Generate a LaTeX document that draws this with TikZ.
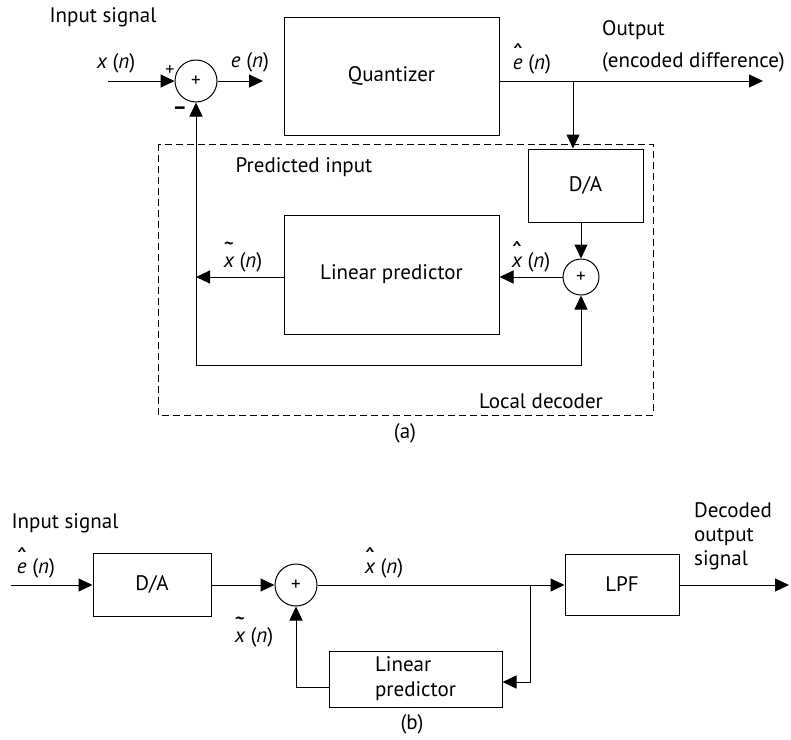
\documentclass[tikz,border=0pt]{standalone}
\usepackage{fontspec}
\usepackage{graphicx}
\setsansfont{PT Sans}
\usetikzlibrary{positioning, arrows.meta, calc}
\tikzset{
  block/.style={rectangle, draw=black, line width=1pt, font=\sffamily\fontsize{21}{25}\selectfont, text centered},
  sumador/.style={circle, draw=black, line width=1pt, inner sep=0pt, font=\sffamily\fontsize{19}{21}\selectfont},
  etiqueta/.style={font=\sffamily\fontsize{21}{25}\selectfont, inner sep=0pt},
  signo/.style={font=\sffamily\fontsize{18}{20}\selectfont, inner sep=0pt},
  arrow/.style={line width=1pt, -{Triangle[length=14pt, width=13pt]}},
  linea/.style={line width=1pt}
}
\newcommand{\acento}[2]{{\ooalign{{\itshape #2}\cr\hidewidth\raisebox{6pt}{\scalebox{1.5}[1.3]{#1}}\hidewidth\cr}}}
\newcommand{\sen}[1]{{\itshape #1} ({\itshape n\/})}
\newcommand{\senhat}[1]{\acento{\symbol{"02C6}}{#1} ({\itshape n\/})}
\newcommand{\sentil}[1]{\acento{\symbol{"02DC}}{#1} ({\itshape n\/})}

\begin{document}
\begin{tikzpicture}[x=1pt, y=-1pt]
    \useasboundingbox (0,0) rectangle (791,739);

    % ==========================================
    % (a) CODIFICADOR
    % ==========================================

    % Entrada y sumador
    \node[etiqueta] (entA) at (103,17) {Input signal};
    \node[etiqueta] (lxn) at (116,63) {\sen{x}};
    \coordinate (xin) at (108,81);
    \node[sumador, minimum size=42pt] (sum1) at (196,81) {+};
    \node[signo] (mas1) at (170,71) {+};
    \node[signo] (menos1) at (180,111) {\fontsize{22}{24}\selectfont\bfseries –};
    \node[etiqueta] (len) at (250,62) {\sen{e}};
    \coordinate (enfin) at (263,81);

    % Cuantizador y salida
    \node[block, minimum width=215pt, minimum height=118pt] (cuant) at (391.5,76) {Quantizer};
    \node[etiqueta] (lehat) at (532,64) {\senhat{e}};
    \node[etiqueta, align=left, anchor=west] (lsalA) at (602,46) {Output\\[7pt](encoded difference)};
    \coordinate (salA) at (763,81);
    \coordinate (ramA) at (573,81);

    % Decodificador local
    \draw[linea, dash pattern=on 7pt off 4pt] (158,144) rectangle (653,415);
    \node[etiqueta] (lpred) at (304,167) {Predicted input};
    \node[etiqueta] (lloc) at (541,401) {Local decoder};
    \node[block, minimum width=115pt, minimum height=73pt] (dac) at (585.5,185.5) {D/A};
    \node[sumador, minimum size=36pt] (sum2) at (581,277) {+};
    \node[block, minimum width=215pt, minimum height=119pt] (lp) at (391.5,274.5) {Linear predictor};
    \node[etiqueta] (lxhat) at (531,262) {\senhat{x}};
    \node[etiqueta] (lxtil) at (243,262) {\sentil{x}};
    \coordinate (fb) at (196,365);
    \node[etiqueta] (capA) at (405,433) {(a)};

    % Conexiones (a)
    \draw[arrow] (xin) -- (sum1.west);
    \draw[arrow] (sum1.east) -- (enfin);
    \draw[arrow] (cuant.east |- sum1) -- (salA);
    \draw[arrow] (ramA) -- (ramA |- dac.north);
    \draw[arrow] (dac.south -| sum2) -- (sum2.north);
    \draw[arrow] (sum2.west) -- (sum2.west -| lp.east);
    \draw[arrow] (lp.west |- sum2) -- (sum1 |- sum2);
    \draw[arrow] (fb) -- (sum1.south);
    \draw[arrow] (fb) -| (sum2.south);

    % ==========================================
    % (b) DECODIFICADOR
    % ==========================================

    \node[etiqueta] (entB) at (65,523) {Input signal};
    \node[etiqueta] (lehatB) at (36,568) {\senhat{e}};
    \coordinate (inB) at (11,585);
    \node[block, minimum width=118pt, minimum height=63pt] (dab) at (152,584.5) {D/A};
    \node[sumador, minimum size=42pt] (sumb) at (296,585) {+};
    \node[etiqueta] (lxhatB) at (384,568) {\senhat{x}};
    \node[etiqueta] (lxtilB) at (254,637) {\sentil{x}};
    \coordinate (ramB) at (530,585);
    \node[block, minimum width=114pt, minimum height=61pt] (lpf) at (622,584.5) {LPF};
    \node[etiqueta, align=left, anchor=west] (lsalB) at (694,536) {Decoded\\[-1pt]output\\[-1pt]signal};
    \coordinate (salB) at (789,585);
    \node[block, minimum width=173pt, minimum height=56pt, align=left] (lpb) at (415.5,679) {Linear\\predictor};
    \node[etiqueta] (capB) at (412,724) {(b)};

    % Conexiones (b)
    \draw[arrow] (inB) -- (dab.west |- inB);
    \draw[arrow] (dab.east |- inB) -- (sumb.west);
    \draw[arrow] (sumb.east) -- (lpf.west |- sumb);
    \draw[arrow] (lpf.east |- sumb) -- (salB);
    \draw[arrow] (ramB) |- ([yshift=-3pt]lpb.east);
    \draw[arrow] ([yshift=-8pt]lpb.west) -| (sumb.south);

\end{tikzpicture}
\end{document}
